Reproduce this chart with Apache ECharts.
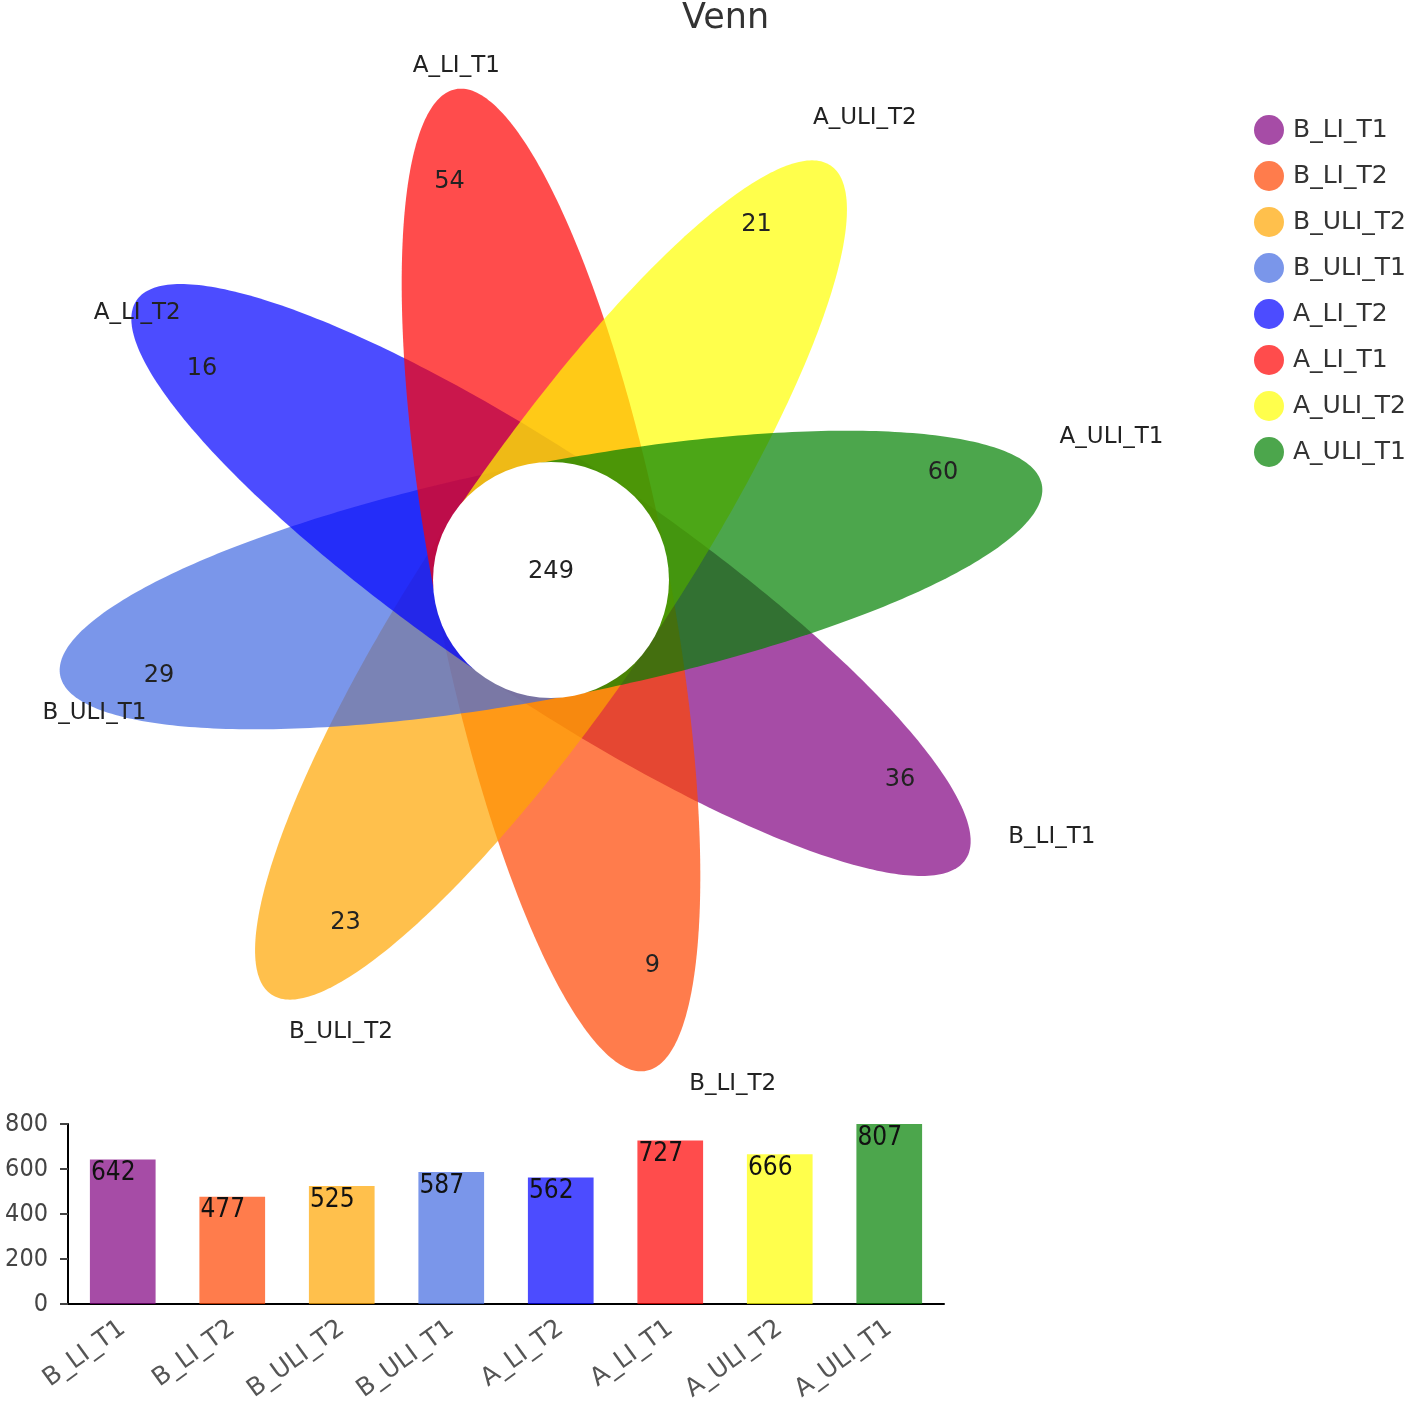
<!DOCTYPE html>
<html>
<head>
<meta charset="utf-8">
<title>Venn</title>
<script src="https://cdn.jsdelivr.net/npm/echarts@6/dist/echarts.min.js"></script>
<style>
  html, body { margin: 0; padding: 0; background: #fff; }
  #main { width: 1416px; height: 1406px; }
</style>
</head>
<body>
<div id="main"></div>
<script>
var setNames = ['B_LI_T1', 'B_LI_T2', 'B_ULI_T2', 'B_ULI_T1', 'A_LI_T2', 'A_LI_T1', 'A_ULI_T2', 'A_ULI_T1']
var uniqueCounts = [36, 9, 23, 29, 16, 54, 21, 60]
var sharedCount = 249
var setTotals = [642, 477, 525, 587, 562, 727, 666, 807]
var yTicks = [0, 200, 400, 600, 800]
var colors = [
  'rgba(128,0,128,0.7)', 'rgba(255,69,0,0.7)', 'rgba(255,165,0,0.7)', 'rgba(65,105,225,0.7)',
  'rgba(0,0,255,0.7)', 'rgba(255,0,0,0.7)', 'rgba(255,255,0,0.7)', 'rgba(0,128,0,0.7)'
]

// petal layout (pixels, flower centre = 0,0)
var DEG = Math.PI / 180
var FIRST_ANGLE = -34 // first petal points down-right, next ones step clockwise
var STEP = -45
var PETAL_LEN = 500
var PETAL_HALF_W = 117
var CORE_R = 118
var NAME_R = 527
var COUNT_R = 405
var FONT = 'DejaVu Sans'

function petalAngle(i) {
  return (FIRST_ANGLE + STEP * i) * DEG
}

// half ellipse from the core centre outwards, base hidden under the core
function petalSeries(i) {
  return {
    type: 'custom',
    name: setNames[i],
    coordinateSystem: 'cartesian2d',
    xAxisIndex: 1,
    yAxisIndex: 1,
    itemStyle: { color: colors[i] },
    silent: true,
    data: [[0, 0, uniqueCounts[i]]],
    renderItem: function(params, api) {
      var t = petalAngle(i)
      var pts = []
      for (var k = 0; k <= 180; k++) {
        var s = (-90 + k) * DEG
        var ex = PETAL_LEN * Math.cos(s)
        var ey = PETAL_HALF_W * Math.sin(s)
        pts.push(api.coord([ex * Math.cos(t) - ey * Math.sin(t), ex * Math.sin(t) + ey * Math.cos(t)]))
      }
      return { type: 'polygon', shape: { points: pts }, style: { fill: colors[i] } }
    }
  }
}

var series = []
for (var i = 0; i < setNames.length; i++) {
  series.push(petalSeries(i))
}

// white core with the shared count
series.push({
  type: 'custom',
  name: 'core',
  coordinateSystem: 'cartesian2d',
  xAxisIndex: 1,
  yAxisIndex: 1,
  silent: true,
  data: [[0, 0, sharedCount]],
  renderItem: function(params, api) {
    var c = api.coord([0, 0])
    var r = api.coord([CORE_R, 0])[0] - c[0]
    return {
      type: 'group',
      children: [
        { type: 'circle', shape: { cx: c[0], cy: c[1], r: r }, style: { fill: '#fff' } },
        {
          type: 'text', x: c[0], y: c[1] - 8,
          style: { text: String(api.value(2)), fill: '#222', fontSize: 24, fontFamily: FONT, align: 'center', verticalAlign: 'middle' }
        }
      ]
    }
  }
})

// set names and unique counts
series.push({
  type: 'custom',
  name: 'labels',
  coordinateSystem: 'cartesian2d',
  xAxisIndex: 1,
  yAxisIndex: 1,
  silent: true,
  data: setNames.map(function(n, idx) { return [0, 0, uniqueCounts[idx], idx] }),
  renderItem: function(params, api) {
    var idx = api.value(3)
    var t = petalAngle(idx)
    var nameAt = api.coord([NAME_R * Math.cos(t + 4.2 * DEG), NAME_R * Math.sin(t + 4.2 * DEG) + 5])
    var numAt = api.coord([COUNT_R * Math.cos(t + 3.5 * DEG), COUNT_R * Math.sin(t + 3.5 * DEG) + 6])
    return {
      type: 'group',
      children: [
        {
          type: 'text', x: nameAt[0], y: nameAt[1],
          style: { text: setNames[idx], fill: '#222', fontSize: 23, fontFamily: FONT, align: 'left', verticalAlign: 'middle' }
        },
        {
          type: 'text', x: numAt[0], y: numAt[1],
          style: { text: String(api.value(2)), fill: '#222', fontSize: 24, fontFamily: FONT, align: 'center', verticalAlign: 'middle' }
        }
      ]
    }
  }
})

// totals per set
series.push({
  type: 'bar',
  name: 'total',
  xAxisIndex: 0,
  yAxisIndex: 0,
  barWidth: '60%',
  data: setTotals.map(function(v, idx) {
    return { value: v, itemStyle: { color: colors[idx] } }
  }),
  label: {
    show: true,
    position: 'insideTopLeft',
    distance: 1,
    color: '#111',
    fontSize: 26,
    fontFamily: 'DejaVu Sans Condensed, DejaVu Sans'
  }
})

var chart = echarts.init(document.getElementById('main'))
chart.setOption({
  animation: false,
  textStyle: { fontFamily: FONT },
  title: {
    text: 'Venn',
    left: 677,
    top: -4,
    textStyle: { fontSize: 35, fontWeight: 'normal', color: '#333', fontFamily: FONT }
  },
  legend: {
    data: setNames,
    orient: 'vertical',
    left: 1254,
    top: 115,
    padding: 0,
    icon: 'circle',
    itemWidth: 30,
    itemHeight: 30,
    itemGap: 16,
    textStyle: { fontSize: 25, color: '#333', fontFamily: FONT, padding: [0, 0, 0, 4] }
  },
  grid: [
    { left: 68, top: 1124, width: 876, height: 180 },
    { left: 0, top: 0, width: 1416, height: 1100 }
  ],
  xAxis: [
    {
      type: 'category',
      gridIndex: 0,
      data: setNames,
      axisLine: { lineStyle: { color: '#000', width: 2 } },
      axisTick: { alignWithLabel: true, length: 12, lineStyle: { color: '#333', width: 2 } },
      axisLabel: { rotate: 36, fontSize: 25, color: '#555', margin: 22, fontFamily: FONT }
    },
    { type: 'value', gridIndex: 1, min: -551, max: 865, show: false }
  ],
  yAxis: [
    {
      type: 'value',
      gridIndex: 0,
      min: yTicks[0],
      max: yTicks[yTicks.length - 1],
      interval: yTicks[1] - yTicks[0],
      axisLine: { show: true, lineStyle: { color: '#000', width: 2 } },
      axisTick: { show: true, length: 8, lineStyle: { color: '#444', width: 2 } },
      splitLine: { show: false },
      axisLabel: { fontSize: 25, color: '#444', margin: 20, fontFamily: 'DejaVu Sans Condensed, DejaVu Sans' }
    },
    { type: 'value', gridIndex: 1, min: -520, max: 580, show: false }
  ],
  series: series
})
</script>
</body>
</html>
